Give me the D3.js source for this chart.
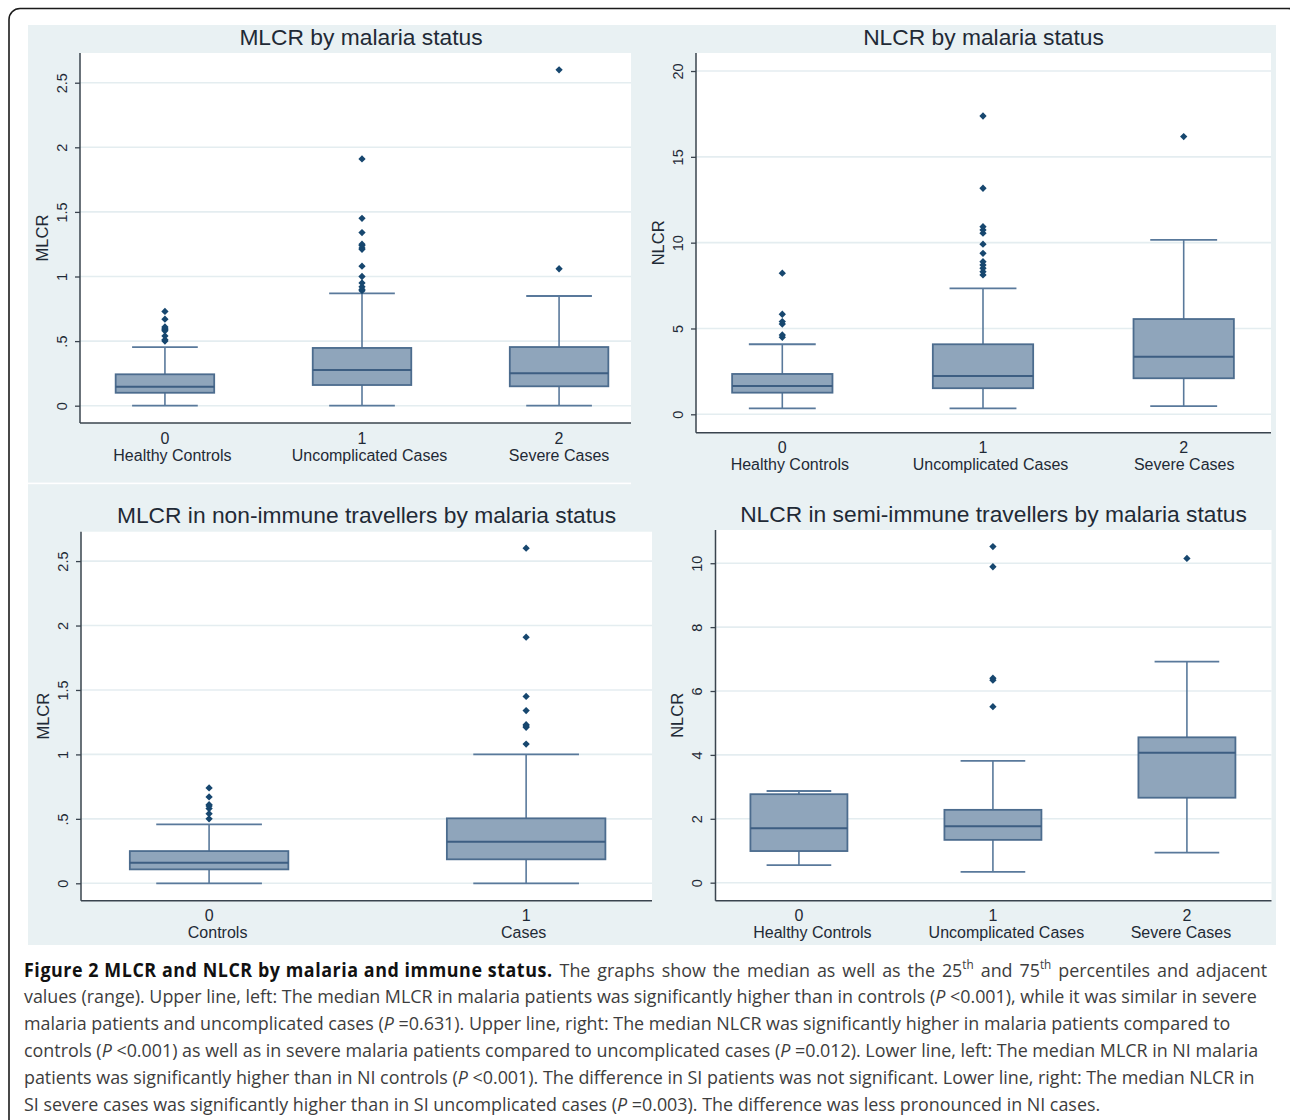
<!DOCTYPE html>
<html><head><meta charset="utf-8">
<script src="https://cdn.jsdelivr.net/npm/d3@7"></script>
<style>body{margin:0;background:#fff;} svg{display:block;}</style>
</head><body><svg id="c" width="1290" height="1120"></svg>
<script>
// ---------- DATA ----------
const groupCodes3 = ["0", "1", "2"];
const groupNames3 = ["Healthy Controls", "Uncomplicated Cases", "Severe Cases"];
const groupCodes2 = ["0", "1"];
const groupNames2 = ["Controls", "Cases"];

const mlcrTicks = [0, 0.5, 1, 1.5, 2, 2.5];
const mlcrTickLabels = ["0", ".5", "1", "1.5", "2", "2.5"];
const nlcrTicks = [0, 5, 10, 15, 20];
const nlcrTickLabels = ["0", "5", "10", "15", "20"];
const siTicks = [0, 2, 4, 6, 8, 10];
const siTickLabels = ["0", "2", "4", "6", "8", "10"];

// MLCR by malaria status
const mlcrLow = [0.0, 0.0, 0.0];
const mlcrQ1 = [0.10, 0.16, 0.15];
const mlcrMedian = [0.147, 0.276, 0.251];
const mlcrQ3 = [0.243, 0.447, 0.454];
const mlcrHigh = [0.454, 0.87, 0.849];
const mlcrOutliers = [
  [0.50, 0.51, 0.54, 0.58, 0.59, 0.60, 0.61, 0.67, 0.73],
  [0.89, 0.90, 0.92, 0.95, 1.00, 1.08, 1.21, 1.22, 1.24, 1.25, 1.34, 1.45, 1.91],
  [1.06, 2.60]
];

// NLCR by malaria status
const nlcrLow = [0.35, 0.35, 0.48];
const nlcrQ1 = [1.26, 1.52, 2.10];
const nlcrMedian = [1.65, 2.23, 3.36];
const nlcrQ3 = [2.35, 4.08, 5.55];
const nlcrHigh = [4.08, 7.34, 10.16];
const nlcrOutliers = [
  [4.49, 4.62, 5.26, 5.40, 5.83, 8.22],
  [8.12, 8.31, 8.51, 8.70, 8.89, 9.38, 9.91, 10.55, 10.74, 10.93, 13.17, 17.38],
  [16.18]
];

// MLCR in non-immune travellers
const niLow = [0.0, 0.0];
const niQ1 = [0.108, 0.186];
const niMedian = [0.16, 0.322];
const niQ3 = [0.250, 0.504];
const niHigh = [0.457, 1.0];
const niOutliers = [
  [0.50, 0.54, 0.58, 0.60, 0.61, 0.67, 0.74],
  [1.08, 1.21, 1.22, 1.23, 1.34, 1.45, 1.91, 2.60]
];

// NLCR in semi-immune travellers
const siLow = [0.55, 0.34, 0.94];
const siQ1 = [0.99, 1.34, 2.66];
const siMedian = [1.70, 1.77, 4.07];
const siQ3 = [2.77, 2.28, 4.55];
const siHigh = [2.87, 3.81, 6.92];
const siOutliers = [
  [],
  [5.51, 6.34, 6.40, 9.89, 10.52],
  [10.15]
];

const captionLines = [
  [["Figure 2 MLCR and NLCR by malaria and immune status.", "b"], [" The graphs show the median as well as the 25", ""], ["th", "sup"], [" and 75", ""], ["th", "sup"], [" percentiles and adjacent", ""]],
  [["values (range). Upper line, left: The median MLCR in malaria patients was significantly higher than in controls (", ""], ["P", "i"], [" <0.001), while it was similar in severe", ""]],
  [["malaria patients and uncomplicated cases (", ""], ["P", "i"], [" =0.631). Upper line, right: The median NLCR was significantly higher in malaria patients compared to", ""]],
  [["controls (", ""], ["P", "i"], [" <0.001) as well as in severe malaria patients compared to uncomplicated cases (", ""], ["P", "i"], [" =0.012). Lower line, left: The median MLCR in NI malaria", ""]],
  [["patients was significantly higher than in NI controls (", ""], ["P", "i"], [" <0.001). The difference in SI patients was not significant. Lower line, right: The median NLCR in", ""]],
  [["SI severe cases was significantly higher than in SI uncomplicated cases (", ""], ["P", "i"], [" =0.003). The difference was less pronounced in NI cases.", ""]]
];

// ---------- STYLE ----------
const C = {
  bg: "#e9f1f3", grid: "#e4edf0", axis: "#3a444e", text: "#1f2a36",
  boxFill: "#8fa5bb", boxStroke: "#4c6c8e", median: "#3d5e82",
  whisker: "#59799b", dot: "#17476f"
};
const chartFont = "'Liberation Sans', Arial, sans-serif";

const svg = d3.select("#c");

// outer rounded frame
svg.append("rect").attr("x", 9).attr("y", 8.5).attr("width", 1290).attr("height", 1150)
  .attr("rx", 11).attr("fill", "none").attr("stroke", "#1b1b1b").attr("stroke-width", 1.6);

// graph background
svg.append("rect").attr("x", 28).attr("y", 25).attr("width", 1248).attr("height", 920).attr("fill", C.bg);
svg.append("rect").attr("x", 28).attr("y", 482.6).attr("width", 603).attr("height", 1.6).attr("fill", "#ffffff");

const panels = [
  { title: "MLCR by malaria status", yLabel: "MLCR", codes: groupCodes3, names: groupNames3,
    low: mlcrLow, q1: mlcrQ1, med: mlcrMedian, q3: mlcrQ3, high: mlcrHigh, out: mlcrOutliers,
    ticks: mlcrTicks, tickLabels: mlcrTickLabels,
    left: 80, right: 631, top: 53, bottom: 423, xDomain: [-0.431, 2.365], yDomain: [-0.134, 2.73],
    titleDx: 5.5, nameDx: [7.5, 7.5, 0] },
  { title: "NLCR by malaria status", yLabel: "NLCR", codes: groupCodes3, names: groupNames3,
    low: nlcrLow, q1: nlcrQ1, med: nlcrMedian, q3: nlcrQ3, high: nlcrHigh, out: nlcrOutliers,
    ticks: nlcrTicks, tickLabels: nlcrTickLabels,
    left: 696, right: 1271, top: 53, bottom: 432.7, xDomain: [-0.43, 2.435], yDomain: [-1.072, 21.05],
    titleDx: 0, nameDx: [7.5, 7.5, 0.5] },
  { title: "MLCR in non-immune travellers by malaria status", yLabel: "MLCR", codes: groupCodes2, names: groupNames2,
    low: niLow, q1: niQ1, med: niMedian, q3: niQ3, high: niHigh, out: niOutliers,
    ticks: mlcrTicks, tickLabels: mlcrTickLabels,
    left: 81, right: 652, top: 531.7, bottom: 900.7, xDomain: [-0.404, 1.397], yDomain: [-0.135, 2.728],
    titleDx: 0, nameDx: [8.5, -2.5] },
  { title: "NLCR in semi-immune travellers by malaria status", yLabel: "NLCR", codes: groupCodes3, names: groupNames3,
    low: siLow, q1: siQ1, med: siMedian, q3: siQ3, high: siHigh, out: siOutliers,
    ticks: siTicks, tickLabels: siTickLabels,
    left: 715.5, right: 1271.5, top: 530, bottom: 900.7, xDomain: [-0.43, 2.436], yDomain: [-0.564, 11.04],
    titleDx: 0, nameDx: [13.5, 13.5, -6] }
];

const diamond = d3.symbol().type(d3.symbolDiamond2).size(34);

panels.forEach(p => {
  const g = svg.append("g");
  const x = d3.scaleLinear().domain(p.xDomain).range([p.left, p.right]);
  const y = d3.scaleLinear().domain(p.yDomain).range([p.bottom, p.top]);

  g.append("rect").attr("x", p.left).attr("y", p.top).attr("width", p.right - p.left)
    .attr("height", p.bottom - p.top).attr("fill", "#fff");

  g.selectAll(".grid").data(p.ticks).join("line")
    .attr("x1", p.left).attr("x2", p.right)
    .attr("y1", d => y(d)).attr("y2", d => y(d))
    .attr("stroke", C.grid).attr("stroke-width", 1.6);

  g.append("text").attr("x", (p.left + p.right) / 2 + p.titleDx).attr("y", p.top - 8.3)
    .attr("text-anchor", "middle").attr("font-family", chartFont).attr("font-size", 22.8)
    .attr("fill", C.text).text(p.title);

  const yAxis = d3.axisLeft(y).tickValues(p.ticks).tickFormat((d, i) => p.tickLabels[i])
    .tickSize(5).tickSizeOuter(0);
  const ya = g.append("g").attr("transform", `translate(${p.left},0)`).call(yAxis);
  ya.select(".domain").attr("stroke", C.axis).attr("stroke-width", 1.5)
    .attr("d", `M0,${p.top}V${p.bottom}`);
  ya.selectAll(".tick line").attr("stroke", C.axis).attr("stroke-width", 1.3);
  ya.selectAll(".tick text")
    .attr("font-family", chartFont).attr("font-size", 14.5).attr("fill", C.text)
    .attr("text-anchor", "middle").attr("dy", null).attr("x", null)
    .attr("transform", "translate(-13.5,0) rotate(-90)");

  g.append("text")
    .attr("transform", `translate(${p.left - 32.5},${(p.top + p.bottom) / 2}) rotate(-90)`)
    .attr("text-anchor", "middle").attr("font-family", chartFont).attr("font-size", 16.5)
    .attr("fill", C.text).text(p.yLabel);

  const xAxis = d3.axisBottom(x).tickValues(d3.range(p.codes.length)).tickFormat("").tickSize(0).tickSizeOuter(0);
  const xa = g.append("g").attr("transform", `translate(0,${p.bottom})`).call(xAxis);
  xa.select(".domain").attr("stroke", C.axis).attr("stroke-width", 1.5)
    .attr("d", `M${p.left},0H${p.right}`);

  p.codes.forEach((code, i) => {
    g.append("text").attr("x", x(i)).attr("y", p.bottom + 20.5).attr("text-anchor", "middle")
      .attr("font-family", chartFont).attr("font-size", 16).attr("fill", C.text).text(code);
    g.append("text").attr("x", x(i) + p.nameDx[i]).attr("y", p.bottom + 37.5).attr("text-anchor", "middle")
      .attr("font-family", chartFont).attr("font-size", 16).attr("fill", C.text).text(p.names[i]);
  });

  p.codes.forEach((code, i) => {
    const bx = g.append("g");
    const cx = x(i);
    bx.append("line").attr("x1", cx).attr("x2", cx).attr("y1", y(p.q3[i])).attr("y2", y(p.high[i]))
      .attr("stroke", C.whisker).attr("stroke-width", 1.6);
    bx.append("line").attr("x1", cx).attr("x2", cx).attr("y1", y(p.q1[i])).attr("y2", y(p.low[i]))
      .attr("stroke", C.whisker).attr("stroke-width", 1.6);
    [p.high[i], p.low[i]].forEach(v => {
      bx.append("line").attr("x1", x(i - 1 / 6)).attr("x2", x(i + 1 / 6))
        .attr("y1", y(v)).attr("y2", y(v)).attr("stroke", C.whisker).attr("stroke-width", 1.8);
    });
    bx.append("rect").attr("x", x(i - 0.25)).attr("width", x(i + 0.25) - x(i - 0.25))
      .attr("y", y(p.q3[i])).attr("height", y(p.q1[i]) - y(p.q3[i]))
      .attr("fill", C.boxFill).attr("stroke", C.boxStroke).attr("stroke-width", 1.8);
    bx.append("line").attr("x1", x(i - 0.25)).attr("x2", x(i + 0.25))
      .attr("y1", y(p.med[i])).attr("y2", y(p.med[i]))
      .attr("stroke", C.median).attr("stroke-width", 2);
    bx.selectAll(".o").data(p.out[i]).join("path")
      .attr("d", diamond).attr("transform", d => `translate(${cx},${y(d)})`)
      .attr("fill", C.dot);
  });
});

// ---------- CAPTION ----------
const capFont = "'Open Sans', 'Noto Sans', sans-serif";
const capG = svg.append("g");
const capBase = 976.5, capStep = 26.8, capX = 24;
const capNodes = captionLines.map((segs, li) => {
  const t = capG.append("text").attr("x", 0).attr("y", 0)
    .attr("font-family", capFont).attr("font-size", 19).attr("fill", "#3d3d3d")
    .style("white-space", "pre");
  let shifted = false;
  segs.forEach(([str, st]) => {
    const ts = t.append("tspan").attr("class", "seg-" + (st || "r")).text(str);
    if (st === "b") ts.attr("font-weight", 700).attr("fill", "#111");
    if (st === "i") ts.attr("font-style", "italic");
    if (st === "sup") { ts.attr("font-size", 12.5).attr("dy", -7.5); shifted = true; }
    else if (shifted) { ts.attr("dy", 7.5); shifted = false; }
  });
  return t;
});
const natural = capNodes[5].node().getComputedTextLength();
const sx = 1077 / natural;

// first line: bold heading wider, line reaches ~1268
const boldTs = capNodes[0].select(".seg-b");
const boldStr = captionLines[0][0][0];
const bw = boldTs.node().getComputedTextLength();
boldTs.attr("letter-spacing", ((529 / sx) - bw) / boldStr.length);
const w0 = capNodes[0].node().getComputedTextLength();
const regSegs = capNodes[0].selectAll(".seg-r");
const nSpaces = captionLines[0].filter(s => s[1] === "").map(s => s[0]).join("").split(" ").length - 1;
regSegs.attr("word-spacing", ((1244 / sx) - w0) / nSpaces);

capNodes.forEach((t, li) => {
  t.attr("transform", `translate(${capX},${capBase + li * capStep}) scale(${sx},1)`);
});
</script></body></html>
